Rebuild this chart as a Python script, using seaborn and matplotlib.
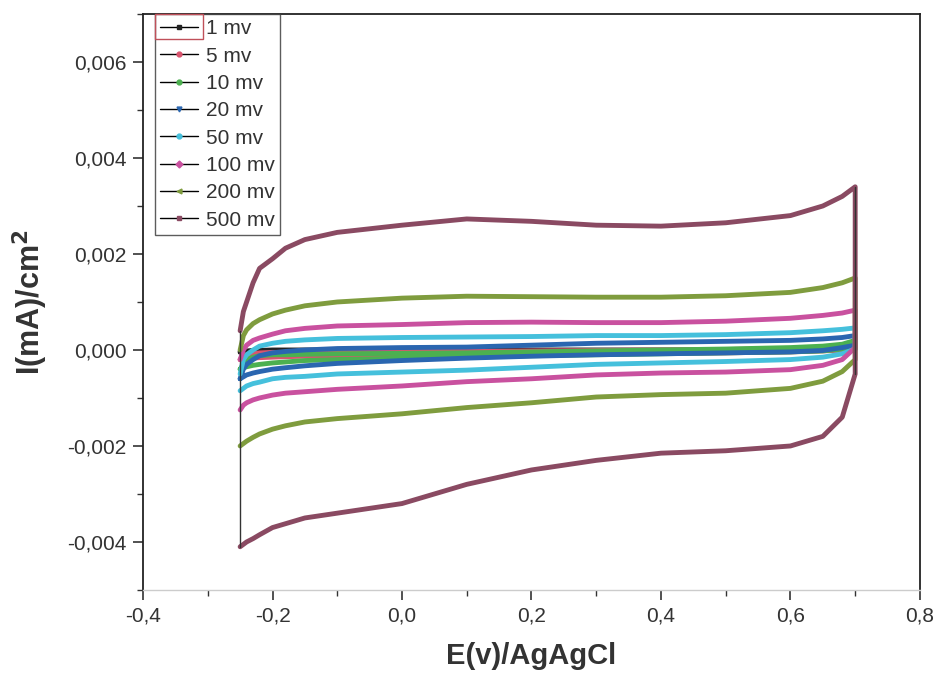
"""
Cyclic voltammetry at several scan rates (reference recreation).
"""

import matplotlib
matplotlib.use("Agg")
import matplotlib.pyplot as plt
import pandas as pd
import seaborn as sns
from matplotlib.lines import Line2D
from matplotlib.patches import Rectangle
from matplotlib.ticker import MultipleLocator, FuncFormatter

# ── data ──────────────────────────────────────────────────────────────────────
potential = [-0.25, -0.245, -0.24, -0.23, -0.22, -0.20, -0.18, -0.15, -0.10, 0.00,
             0.10, 0.20, 0.30, 0.40, 0.50, 0.60, 0.65, 0.68, 0.70]

scan_rates = ["1 mv", "5 mv", "10 mv", "20 mv", "50 mv", "100 mv", "200 mv", "500 mv"]
colors = ["#222222", "#d9546e", "#4cb050", "#2a66b0", "#45c0dc", "#c9519f", "#7f9c3e", "#8a4a62"]
markers = ["s", "o", "o", "v", "o", "D", "<", "s"]

upper_1 = [-0.00003, -0.00002, -0.00002, -0.00001, -0.00001, 0.0, 0.0, 0.0, 0.0, 0.0,
           0.0, 0.0, 0.0, 0.0, 0.0, 0.00001, 0.00002, 0.00003, 0.00005]
lower_1 = [-0.00005, -0.00005, -0.00004, -0.00004, -0.00003, -0.00003, -0.00003, -0.00002, -0.00002, -0.00002,
           -0.00002, -0.00002, -0.00001, -0.00001, -0.00001, -0.00001, 0.0, 0.0, 0.00002]
upper_5 = [-0.0002, -0.00014, -0.0001, -0.00008, -0.00006, -0.00005, -0.00005, -0.00004, -0.00004, -0.00003,
           -0.00003, -0.00002, -0.00001, 0.0, 0.00001, 0.00003, 0.00005, 0.00007, 0.0001]
lower_5 = [-0.0002, -0.00019, -0.00018, -0.00017, -0.00016, -0.00015, -0.00014, -0.00013, -0.00012, -0.00011,
           -0.0001, -0.00009, -0.00008, -0.00007, -0.00006, -0.00004, -0.00002, 0.0, 0.00005]
upper_10 = [-0.0004, -0.0003, -0.0002, -0.00015, -0.00012, -0.0001, -0.0001, -0.00009, -0.00008, -0.00007,
            -0.00006, -0.00004, -0.00002, 0.0, 0.00002, 0.00005, 0.00008, 0.00012, 0.0002]
lower_10 = [-0.0004, -0.00037, -0.00035, -0.00032, -0.0003, -0.00027, -0.00025, -0.00022, -0.0002, -0.00017,
            -0.00015, -0.00012, -0.0001, -0.00008, -0.00006, -0.00004, -0.00002, 0.00002, 0.0001]
upper_20 = [-0.0006, -0.0004, -0.0003, -0.0002, -0.00012, -0.00006, -0.00003, 0.0, 0.00003, 0.00005,
            0.00006, 0.0001, 0.00014, 0.00016, 0.00018, 0.0002, 0.00023, 0.00026, 0.0003]
lower_20 = [-0.0006, -0.00056, -0.00052, -0.00048, -0.00045, -0.0004, -0.00037, -0.00033, -0.00028, -0.00022,
            -0.00017, -0.00013, -0.0001, -0.00008, -0.00006, -0.00004, -0.00001, 0.00005, 0.0001]
upper_50 = [-0.0005, -0.0002, -0.0001, 0.0, 0.00008, 0.00014, 0.00018, 0.00021, 0.00024, 0.00026,
            0.00027, 0.00028, 0.0003, 0.0003, 0.00032, 0.00036, 0.0004, 0.00043, 0.00046]
lower_50 = [-0.00085, -0.0008, -0.00075, -0.0007, -0.00067, -0.0006, -0.00057, -0.00055, -0.0005, -0.00046,
            -0.00042, -0.00036, -0.0003, -0.00027, -0.00024, -0.0002, -0.00015, -0.00008, 0.00002]
upper_100 = [-0.0002, 0.0, 0.0001, 0.0002, 0.00025, 0.00033, 0.0004, 0.00045, 0.0005, 0.00053,
             0.00057, 0.00058, 0.00057, 0.00057, 0.0006, 0.00066, 0.00072, 0.00077, 0.00083]
lower_100 = [-0.00125, -0.00115, -0.0011, -0.00104, -0.001, -0.00094, -0.0009, -0.00087, -0.00082, -0.00075,
             -0.00066, -0.0006, -0.00052, -0.00048, -0.00046, -0.00041, -0.00032, -0.0002, 0.00005]
upper_200 = [0.0, 0.0003, 0.00042, 0.00055, 0.00063, 0.00075, 0.00083, 0.00092, 0.001, 0.00108,
             0.00112, 0.00111, 0.0011, 0.0011, 0.00113, 0.0012, 0.0013, 0.0014, 0.0015]
lower_200 = [-0.002, -0.00195, -0.0019, -0.00182, -0.00175, -0.00165, -0.00158, -0.0015, -0.00143, -0.00133,
             -0.0012, -0.0011, -0.00098, -0.00093, -0.0009, -0.0008, -0.00065, -0.00045, -0.0002]
upper_500 = [0.0004, 0.0008, 0.001, 0.0014, 0.0017, 0.0019, 0.00212, 0.0023, 0.00245, 0.0026,
             0.00273, 0.00268, 0.0026, 0.00258, 0.00265, 0.0028, 0.003, 0.0032, 0.0034]
lower_500 = [-0.0041, -0.00405, -0.004, -0.00393, -0.00385, -0.0037, -0.00362, -0.0035, -0.0034, -0.0032,
             -0.0028, -0.0025, -0.0023, -0.00215, -0.0021, -0.002, -0.0018, -0.0014, -0.0005]

uppers = [upper_1, upper_5, upper_10, upper_20, upper_50, upper_100, upper_200, upper_500]
lowers = [lower_1, lower_5, lower_10, lower_20, lower_50, lower_100, lower_200, lower_500]

# ── build loops: forward (upper) sweep, then reverse (lower) sweep ────────────
frames = []
for rate, up, low in zip(scan_rates, uppers, lowers):
    e = list(potential) + list(potential[::-1])
    i = list(up) + list(low[::-1])
    frames.append(pd.DataFrame({"E": e, "I": i, "rate": rate}))
df = pd.concat(frames, ignore_index=True)

sns.set_theme(style="ticks")
plt.rcParams["font.family"] = ["Liberation Sans", "DejaVu Sans"]

fig = plt.figure(figsize=(9.44, 6.86), dpi=100)
ax = fig.add_axes([0.1515, 0.140, 0.823, 0.8396])

sns.lineplot(
    data=df, x="E", y="I", hue="rate", hue_order=scan_rates,
    palette=dict(zip(scan_rates, colors)), sort=False, estimator=None,
    linewidth=3.5, legend=False, ax=ax,
)

# thin black switching lines at both vertex potentials
ax.plot([potential[0], potential[0]], [lower_500[0], upper_500[0]], color="#333333", lw=1.0)
ax.plot([potential[-1], potential[-1]], [lower_500[-1], upper_500[-1]], color="#333333", lw=1.0)

ax.set_xlim(-0.4, 0.8)
ax.set_ylim(-0.005, 0.007)
ax.xaxis.set_major_locator(MultipleLocator(0.2))
ax.xaxis.set_minor_locator(MultipleLocator(0.1))
ax.yaxis.set_major_locator(MultipleLocator(0.002))
ax.yaxis.set_minor_locator(MultipleLocator(0.001))
ax.xaxis.set_major_formatter(FuncFormatter(lambda v, p: f"{v:.1f}".replace(".", ",").replace("-0,0", "0,0")))
ax.yaxis.set_major_formatter(FuncFormatter(lambda v, p: f"{v:.3f}".replace(".", ",").replace("-0,000", "0,000")))

ax.tick_params(axis="both", which="major", direction="out", length=7, width=1.2,
               labelsize=15, colors="#333333", pad=5)
ax.tick_params(axis="both", which="minor", direction="out", length=4, width=1.0, colors="#333333")
ax.tick_params(top=False, right=False, which="both")
for side in ["left", "top", "right"]:
    ax.spines[side].set_color("#222222")
    ax.spines[side].set_linewidth(1.3)
ax.spines["bottom"].set_color("#cccccc")
ax.spines["bottom"].set_linewidth(1.0)

ax.set_xlabel("E(v)/AgAgCl", fontsize=21, fontweight="bold", labelpad=12, color="#333333")
ax.set_ylabel("I(mA)/cm$^{\\mathbf{2}}$", fontsize=22, fontweight="bold", labelpad=12, color="#333333")

handles = [
    Line2D([0], [0], color="black", lw=1.0, marker=m, markersize=3.5,
           markerfacecolor=c, markeredgecolor=c)
    for c, m in zip(colors, markers)
]
leg = ax.legend(handles, scan_rates, loc="upper left", bbox_to_anchor=(0.0155, 1.0),
                frameon=True, fontsize=15, handlelength=1.8, handletextpad=0.4,
                labelspacing=0.4, borderpad=0.25, borderaxespad=0.0, fancybox=False)
leg.get_frame().set_edgecolor("#333333")
leg.get_frame().set_linewidth(1.0)
for t in leg.get_texts():
    t.set_color("#333333")

fig.canvas.draw()
# red selection box around the first legend handle, as in the source figure
bb = leg.legend_handles[0].get_window_extent(fig.canvas.get_renderer())
inv = fig.transFigure.inverted()
(x0, y0), (x1, y1) = inv.transform([[bb.x0 - 3, bb.y0 - 10], [bb.x1 + 3, bb.y1 + 10]])
fig.add_artist(Rectangle((x0, y0), x1 - x0, y1 - y0, transform=fig.transFigure,
                         fill=False, edgecolor="#c0505a", lw=1.0))

fig.savefig("out.png", dpi=100)
